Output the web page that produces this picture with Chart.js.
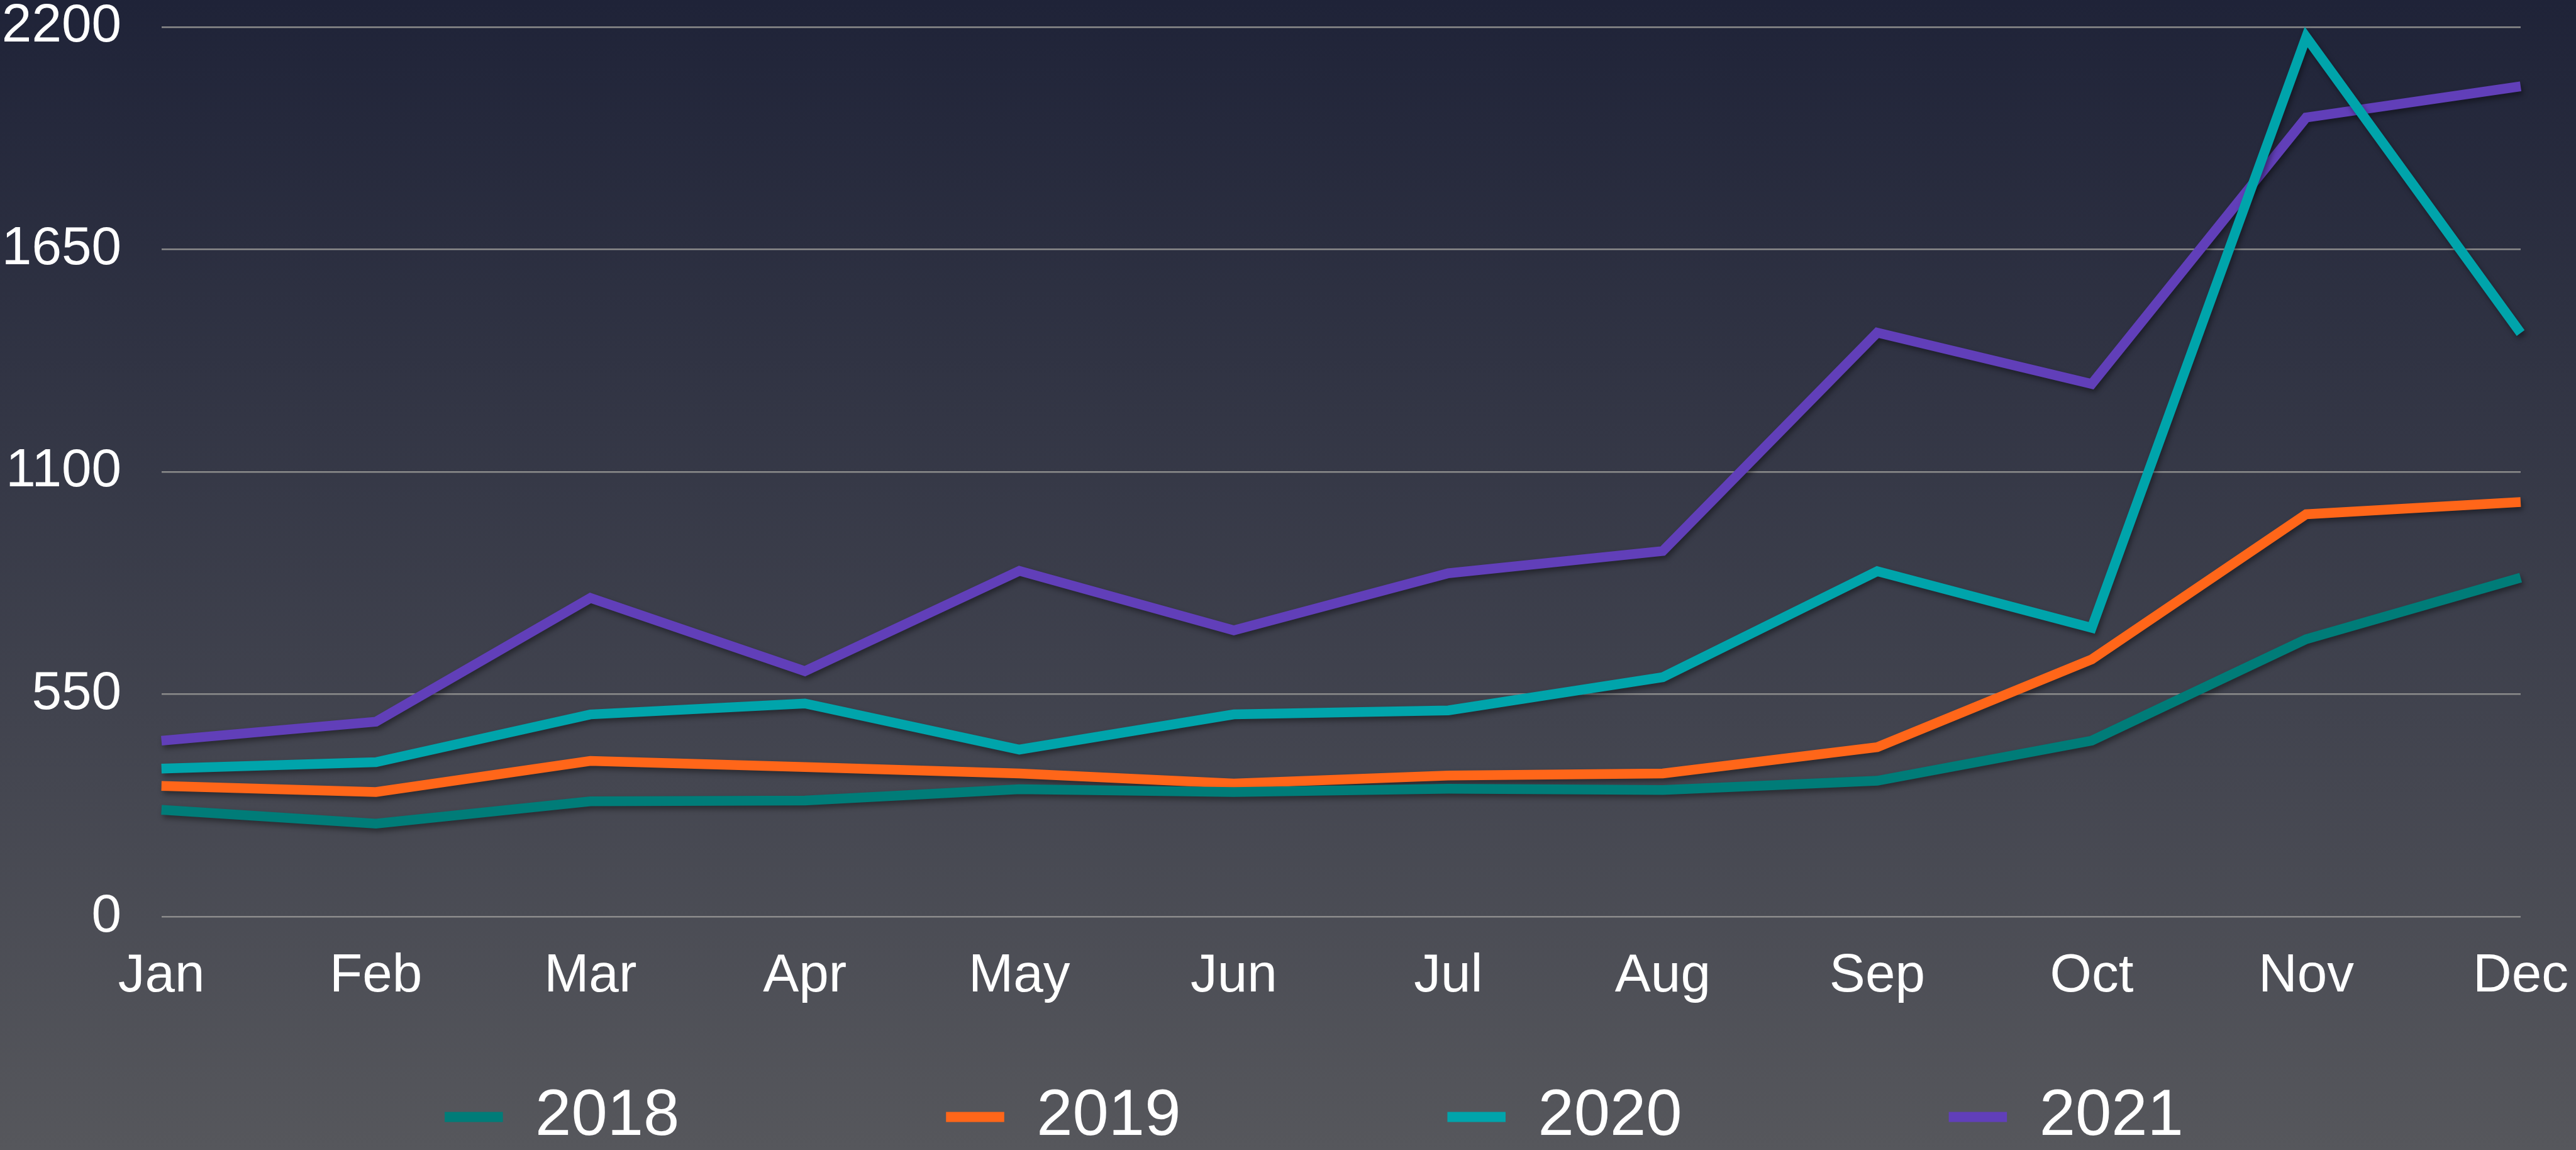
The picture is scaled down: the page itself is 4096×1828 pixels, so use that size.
<!doctype html>
<html lang="en">

<head>
    <meta charset="utf-8">
    <title>Monthly values 2018-2021</title>
    <script src="https://cdn.jsdelivr.net/npm/chart.js@4"></script>
    <style>
        html, body {
            margin: 0;
            padding: 0;
            overflow: hidden;
        }
        body {
            width: 4096px;
            height: 1828px;
            background: linear-gradient(to bottom, #1f2338 0%, #56575c 100%);
        }
        canvas {
            display: block;
        }
    </style>
</head>

<body>
    <canvas id="myChart" width="4096" height="1828"></canvas>

    <script>
        // data
        const months = ['Jan', 'Feb', 'Mar', 'Apr', 'May', 'Jun', 'Jul', 'Aug', 'Sep', 'Oct', 'Nov', 'Dec'];
        const years = ['2018', '2019', '2020', '2021'];
        const values2018 = [264, 230, 285, 287, 315, 308, 316, 313, 336, 435, 686, 838];
        const values2019 = [323, 308, 385, 370, 354, 329, 349, 354, 419, 636, 995, 1025];
        const values2020 = [366, 382, 500, 527, 413, 500, 510, 592, 854, 714, 2175, 1443];
        const values2021 = [435, 482, 788, 607, 855, 708, 849, 904, 1444, 1317, 1976, 2053];
        const yTicks = [0, 550, 1100, 1650, 2200];

        const colors = ['#007c78', '#ff6619', '#00a4ab', '#613fb9'];
        const series = [values2018, values2019, values2020, values2021];

        const S = 0.995; // reference -> window

        // soft shadow under each line
        const lineShadow = {
            id: 'lineShadow',
            beforeDatasetDraw(chart) {
                const ctx = chart.ctx;
                ctx.save();
                ctx.shadowColor = 'rgba(0, 0, 0, 0.4)';
                ctx.shadowBlur = 8;
                ctx.shadowOffsetX = 3;
                ctx.shadowOffsetY = 5;
            },
            afterDatasetDraw(chart) {
                chart.ctx.restore();
            }
        };

        Chart.defaults.font.family = '"Liberation Sans", Arial, sans-serif';
        Chart.defaults.color = '#ffffff';

        const data = {
            labels: months,
            datasets: years.map((y, i) => ({
                label: y,
                data: series[i],
                borderColor: colors[i],
                backgroundColor: colors[i],
                borderWidth: 15.5,
                borderJoinStyle: 'miter',
                borderCapStyle: 'butt',
                pointRadius: 0,
                pointHoverRadius: 0,
                tension: 0,
                fill: false,
                clip: false
            }))
        };

        const tickFont = { size: 85.5, lineHeight: 1.0 };
        const nbsp = '\u00A0';

        const config = {
            type: 'line',
            data,
            plugins: [lineShadow],
            options: {
                responsive: false,
                animation: false,
                events: [],
                layout: {
                    padding: { left: 0, right: 88, top: 43 * S, bottom: -9 }
                },
                scales: {
                    x: {
                        grid: { display: false, drawTicks: false },
                        border: { display: false },
                        ticks: {
                            font: tickFont,
                            color: '#ffffff',
                            padding: 53,
                            maxRotation: 0,
                            autoSkip: false
                        },
                        afterFit(scale) {
                            scale.height = 215;
                            scale.paddingLeft = 0;
                            scale.paddingRight = 0;
                        }
                    },
                    y: {
                        min: 0,
                        max: 2200,
                        afterBuildTicks(scale) {
                            scale.ticks = yTicks.map(v => ({ value: v }));
                        },
                        grid: {
                            color: '#8b8b8b',
                            lineWidth: 2.5,
                            drawTicks: false,
                            tickLength: 0
                        },
                        border: { display: false },
                        ticks: {
                            font: tickFont,
                            color: '#ffffff',
                            padding: 64 * S,
                            callback: v => String(v)
                        },
                        afterFit(scale) {
                            scale.width = 258 * S;
                            scale.paddingTop = 0;
                            scale.paddingBottom = 0;
                        }
                    }
                },
                plugins: {
                    tooltip: { enabled: false },
                    legend: {
                        position: 'bottom',
                        fullSize: false,
                        labels: {
                            color: '#ffffff',
                            font: { size: 103 },
                            boxWidth: 93 * S,
                            boxHeight: 16 * S,
                            padding: 52,
                            generateLabels(chart) {
                                const items = Chart.defaults.plugins.legend.labels.generateLabels(chart);
                                items.forEach((it, i) => {
                                    it.lineWidth = 0;
                                    // spread the items like the original, nudge the row left
                                    it.text = it.text + nbsp.repeat(i < items.length - 1 ? 13 : 3);
                                });
                                return items;
                            }
                        }
                    }
                }
            }
        };

        const myChart = new Chart(document.getElementById('myChart'), config);
    </script>

</body>

</html>
